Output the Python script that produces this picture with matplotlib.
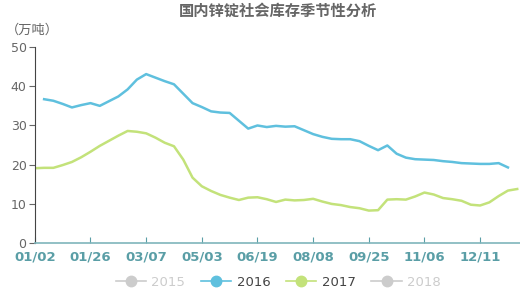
import numpy as np
import matplotlib
matplotlib.use('Agg')
import matplotlib.pyplot as plt
from matplotlib.lines import Line2D

plt.rcParams['font.family'] = ['Noto Sans CJK SC', 'DejaVu Sans']

labels = ['01/02', '01/26', '03/07', '05/03', '06/19', '08/08', '09/25', '11/06', '12/11']
label_step = 6
n_cat = 53

# 2016 starts one week later than 2017
v2016 = [36.7, 36.3, 35.5, 34.6, 35.2, 35.7, 35.0, 36.2, 37.4, 39.2,
         41.7, 43.1, 42.2, 41.3, 40.5, 38.1, 35.7, 34.7, 33.6, 33.3,
         33.2, 31.2, 29.2, 30.0, 29.6, 29.9, 29.7, 29.8, 28.8, 27.8,
         27.1, 26.6, 26.5, 26.5, 26.0, 24.8, 23.7, 24.9, 22.8, 21.8,
         21.4, 21.3, 21.2, 20.9, 20.7, 20.4, 20.3, 20.2, 20.2, 20.4,
         19.3]
v2017 = [19.1, 19.2, 19.2, 19.9, 20.7, 21.9, 23.3, 24.8, 26.1, 27.4,
         28.6, 28.4, 28.0, 26.9, 25.6, 24.7, 21.3, 16.7, 14.5, 13.3,
         12.3, 11.6, 11.0, 11.6, 11.7, 11.2, 10.5, 11.1, 10.9, 11.0,
         11.3, 10.6, 10.0, 9.7, 9.2, 8.9, 8.3, 8.4, 11.1, 11.2,
         11.1, 11.9, 12.9, 12.4, 11.5, 11.2, 10.8, 9.8, 9.6, 10.4,
         12.0, 13.4, 13.8]

c2016 = '#5fc0de'
c2017 = '#c3e27a'
c_off = '#cccccc'

fig = plt.figure(figsize=(5.2, 2.94), dpi=100)
ax = fig.add_axes([0.067, 0.173, 0.933, 0.667])

ax.plot(np.arange(1, 1 + len(v2016)), v2016, color=c2016, lw=1.8)
ax.plot(np.arange(len(v2017)), v2017, color=c2017, lw=1.8)

ax.set_xlim(0, n_cat - 0.7)
ax.set_ylim(0, 50)
ax.set_xticks(np.arange(len(labels)) * label_step)
ax.set_xticklabels(labels, color='#5a9ea6', fontsize=9.5, fontweight='bold',
                   family='DejaVu Sans')
ax.set_yticks(np.arange(0, 51, 10))
ax.tick_params(axis='x', direction='in', length=4, color='#5a9ea6', pad=5)
ax.tick_params(axis='y', direction='out', length=4, color='#666666',
               labelcolor='#666666', labelsize=9, pad=2)
for lab in ax.get_yticklabels():
    lab.set_family('DejaVu Sans')

for s in ['top', 'right']:
    ax.spines[s].set_visible(False)
ax.spines['left'].set_color('#444444')
ax.spines['bottom'].set_color('#7fb5bb')
ax.spines['bottom'].set_linewidth(1.2)

fig.text(0.535, 0.962, '国内锌锭社会库存季节性分析', ha='center', va='center',
         fontsize=11, fontweight='bold', color='#666666')
fig.text(0.012, 0.896, '（万吨）', ha='left', va='center', fontsize=9.5,
         color='#666666')

handles = [
    Line2D([], [], color=c_off, marker='o', ms=7.5, lw=1.2),
    Line2D([], [], color=c2016, marker='o', ms=7.5, lw=1.2),
    Line2D([], [], color=c2017, marker='o', ms=7.5, lw=1.2),
    Line2D([], [], color=c_off, marker='o', ms=7.5, lw=1.2),
]
leg = fig.legend(handles, ['2015', '2016', '2017', '2018'], loc='center',
                 bbox_to_anchor=(0.535, 0.04), ncol=4, frameon=False,
                 fontsize=9.5, handlelength=2.3, columnspacing=1.2,
                 handletextpad=0.4)
for t, col in zip(leg.get_texts(), [c_off, '#444444', '#444444', c_off]):
    t.set_color(col)
    t.set_family('DejaVu Sans')

fig.savefig('out.png', dpi=100)
